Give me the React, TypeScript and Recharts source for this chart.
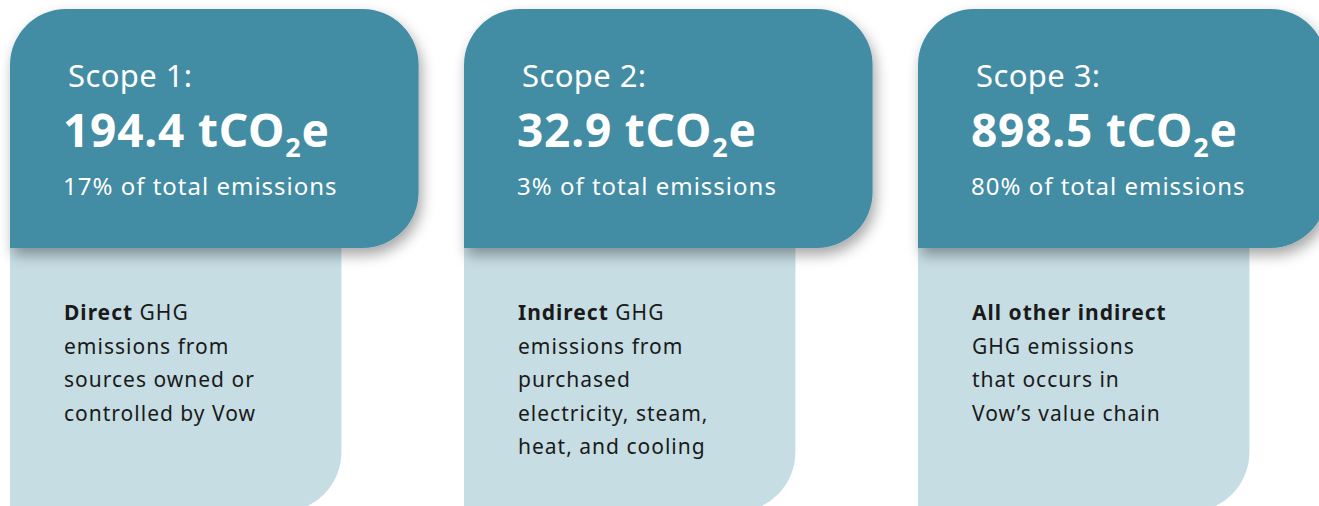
import React from 'react';
import { BarChart, Bar, XAxis, YAxis } from 'recharts';

const scopes = ['Scope 1:', 'Scope 2:', 'Scope 3:'];
const emissions = [194.4, 32.9, 898.5];
const shares = [17, 3, 80];
const leadWords = ['Direct', 'Indirect', 'All other indirect'];
const leadRest = [' GHG', ' GHG', ''];
const descLines = [
  ['emissions from', 'sources owned or', 'controlled by Vow'],
  ['emissions from', 'purchased', 'electricity, steam,', 'heat, and cooling'],
  ['GHG emissions', 'that occurs in', 'Vow\u2019s value chain'],
];

const data = scopes.map((scope, i) => ({
  scope,
  emissions: emissions[i],
  share: shares[i],
  lead: leadWords[i],
  leadRest: leadRest[i],
  lines: descLines[i],
}));

const DARK = '#428ca4';
const LIGHT = '#c5dde3';
const FONT = '"Noto Sans", sans-serif';

const roundedPath = (x: number, y: number, w: number, h: number, r: number[]) => {
  const [tl, tr, br, bl] = r;
  return `M${x + tl},${y} H${x + w - tr} A${tr},${tr} 0 0 1 ${x + w},${y + tr} V${y + h - br} A${br},${br} 0 0 1 ${x + w - br},${y + h} H${x + bl} A${bl},${bl} 0 0 1 ${x},${y + h - bl} V${y + tl} A${tl},${tl} 0 0 1 ${x + tl},${y} Z`;
};

const CardShape = (props: any) => {
  const { x, width, background, payload } = props;
  const top = background ? background.y : 9;
  const fullH = background ? background.height : 503;
  const darkW = width * 0.9;
  const lightW = width * 0.73;
  const darkH = 239;

  return (
    <g>
      <path d={roundedPath(x, top + darkH - 20, lightW, fullH - darkH + 20, [0, 0, 60, 0])} fill={LIGHT} />
      <path d={roundedPath(x, top, darkW, darkH, [56, 56, 56, 0])} fill={DARK} filter="url(#cardShadow)" />
      <text x={x + 58} y={top + 78} fill="#fff" fontSize={31} letterSpacing={0.4} fontFamily={FONT}>
        {payload.scope}
      </text>
      <text x={x + 53} y={top + 138} fill="#fff" fontSize={46} fontWeight={700} letterSpacing={0.8} fontFamily={FONT}>
        {payload.emissions.toFixed(1)} tCO
        <tspan fontSize={27} dy={10}>2</tspan>
        <tspan dy={-10}>e</tspan>
      </text>
      <text x={x + 53} y={top + 186} fill="#fff" fontSize={24} letterSpacing={1} fontFamily={FONT}>
        {payload.share}% of total emissions
      </text>
      <text x={x + 54} y={top + 311} fill="#1a1a1a" fontSize={21} letterSpacing={1} fontFamily={FONT}>
        <tspan fontWeight={700}>{payload.lead}</tspan>
        {payload.leadRest}
      </text>
      {payload.lines.map((line: string, i: number) => (
        <text key={i} x={x + 54} y={top + 311 + (i + 1) * 33.5} fill="#1a1a1a" fontSize={21} letterSpacing={1} fontFamily={FONT}>
          {line}
        </text>
      ))}
    </g>
  );
};

export default function App() {
  return (
    <div style={{ position: 'absolute', left: 0, top: 0, width: 1319, height: 506, overflow: 'hidden', background: '#fff' }}>
      <BarChart
        width={1372}
        height={520}
        data={data}
        margin={{ top: 9, right: 0, left: 10, bottom: 8 }}
        barCategoryGap={0}
        barGap={0}
      >
        <defs>
          <filter id="cardShadow" x="-10%" y="-10%" width="130%" height="140%">
            <feDropShadow dx={3} dy={7} stdDeviation={7} floodColor="#000" floodOpacity={0.35} />
          </filter>
        </defs>
        <XAxis dataKey="scope" hide />
        <YAxis hide domain={[0, 'dataMax']} />
        <Bar dataKey="emissions" shape={CardShape} isAnimationActive={false} />
      </BarChart>
    </div>
  );
}
